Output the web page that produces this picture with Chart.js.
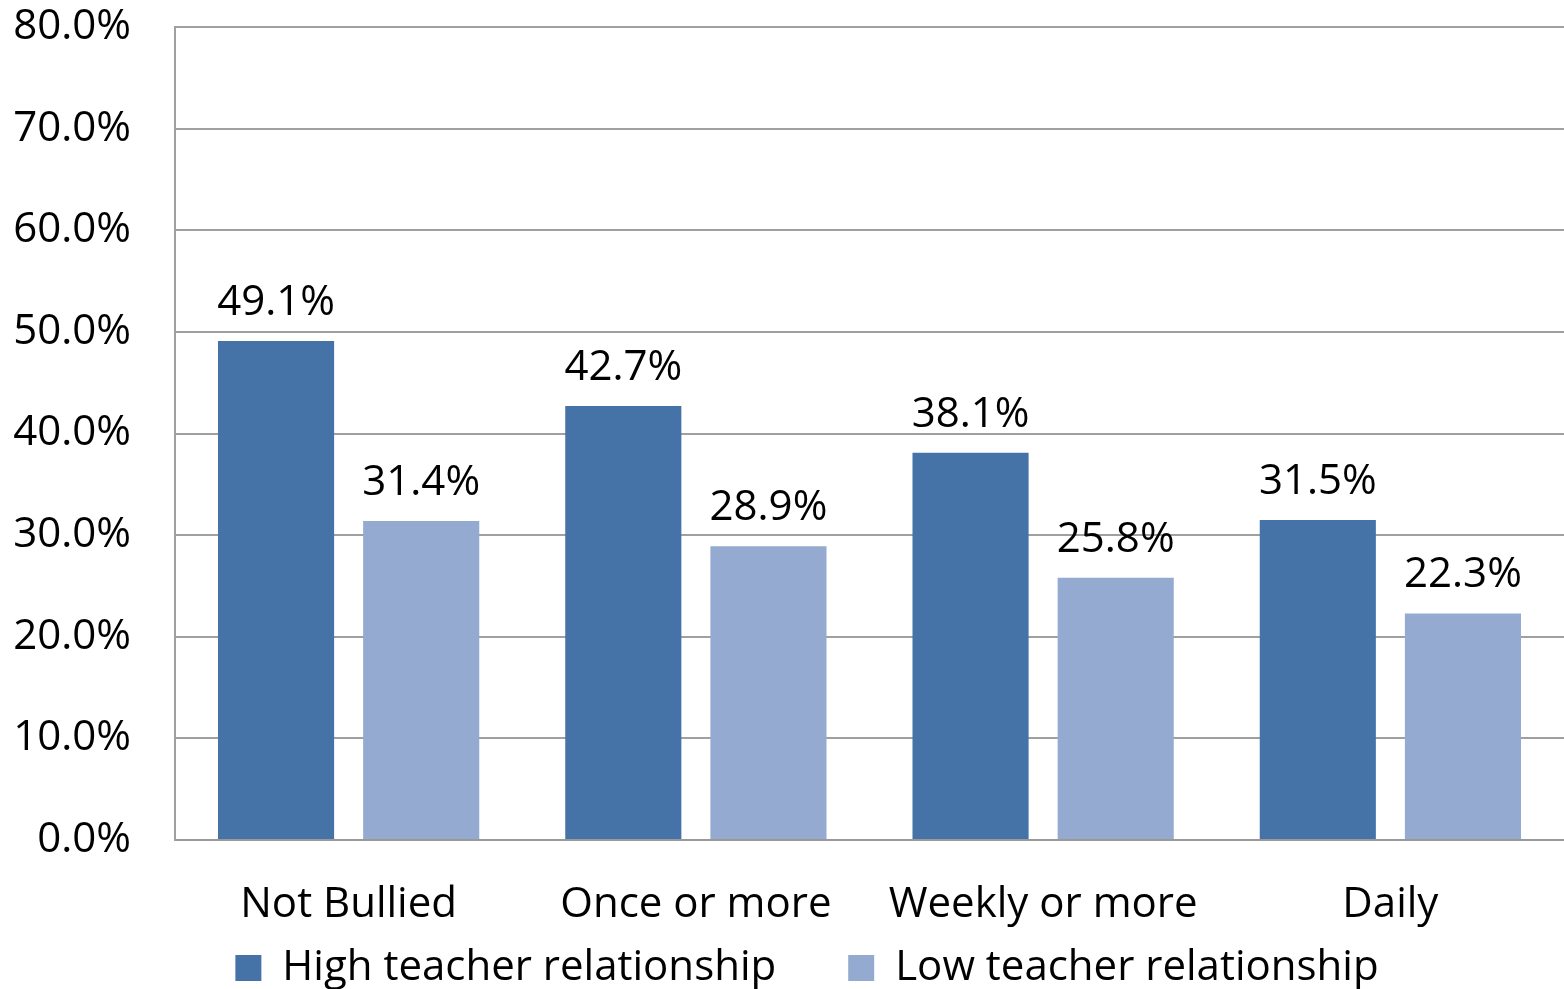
<!DOCTYPE html>
<html lang="en">
<head>
  <meta charset="UTF-8" />
  <title>Teacher relationship by bullying frequency</title>
  <script src="https://cdn.jsdelivr.net/npm/chart.js"></script>
  <style>
    html, body { margin: 0; padding: 0; background: #fff; }
    #wrap { width: 1564px; height: 989px; }
  </style>
</head>
<body>
  <div id="wrap"><canvas id="chart" width="1564" height="989"></canvas></div>
  <script>
    // categories and values
    const categories = ['Not Bullied', 'Once or more', 'Weekly or more', 'Daily'];
    const highTeacher = [49.1, 42.7, 38.1, 31.5];
    const lowTeacher = [31.4, 28.9, 25.8, 22.3];
    const seriesNames = ['High teacher relationship', 'Low teacher relationship'];

    const FONT = "'Open Sans', sans-serif";
    const LEGEND_GAP = 72;

    // value labels above the bars
    const barLabels = {
      id: 'barLabels',
      afterDatasetsDraw(chart) {
        const ctx = chart.ctx;
        ctx.save();
        ctx.font = '42px ' + FONT;
        ctx.fillStyle = '#000';
        ctx.textAlign = 'center';
        ctx.textBaseline = 'bottom';
        chart.data.datasets.forEach((ds, i) => {
          chart.getDatasetMeta(i).data.forEach((bar, j) => {
            ctx.fillText(ds.data[j].toFixed(1) + '%', bar.x, bar.y - 17);
          });
        });
        ctx.restore();
      }
    };

    // legend: wide gap between items but a short box, then nudge into place
    const legendFix = {
      id: 'legendFix',
      beforeLayout(chart) {
        const lg = chart.legend;
        if (lg && !lg._shortFit) {
          const fit = lg.fit;
          lg.fit = function () { fit.call(this); this.height = 49; };
          lg._shortFit = true;
        }
      },
      afterLayout(chart) {
        const lg = chart.legend;
        lg.left += 25; lg.right += 25;
        // items sit LEGEND_GAP below the box top; keep bottom so the clip covers them
        lg.top = 947 - LEGEND_GAP;
        lg.bottom = chart.height;
      }
    };

    new Chart(document.getElementById('chart'), {
      type: 'bar',
      data: {
        labels: categories,
        datasets: [
          { label: seriesNames[0], data: highTeacher, backgroundColor: '#4673A7' },
          { label: seriesNames[1], data: lowTeacher, backgroundColor: '#95AAD0' }
        ]
      },
      options: {
        responsive: false,
        animation: false,
        devicePixelRatio: 1,
        categoryPercentage: 0.836,
        barPercentage: 0.8,
        layout: { padding: { top: 27, right: 0, left: 0, bottom: 0 } },
        scales: {
          x: {
            grid: { display: false, drawTicks: false },
            border: { display: true, color: '#999', width: 2 },
            ticks: { color: '#000', font: { family: FONT, size: 42 }, padding: 40, maxRotation: 0 },
            afterFit(scale) { scale.height = 100; }
          },
          y: {
            min: 0,
            max: 80,
            ticks: {
              stepSize: 10,
              color: '#000',
              font: { family: FONT, size: 42 },
              padding: 44,
              callback: v => v.toFixed(1) + '%'
            },
            grid: { color: '#a0a0a0', lineWidth: 2, drawTicks: false },
            border: { display: true, color: '#a0a0a0', width: 2 },
            afterFit(scale) {
              scale.width = 175;
              scale.paddingTop = 0;
              scale.paddingBottom = 0;
            }
          }
        },
        plugins: {
          legend: {
            position: 'bottom',
            labels: {
              color: '#000',
              font: { family: FONT, size: 42 },
              boxWidth: 26,
              boxHeight: 26,
              padding: LEGEND_GAP
            }
          },
          tooltip: { enabled: false }
        }
      },
      plugins: [barLabels, legendFix]
    });
  </script>
</body>
</html>
